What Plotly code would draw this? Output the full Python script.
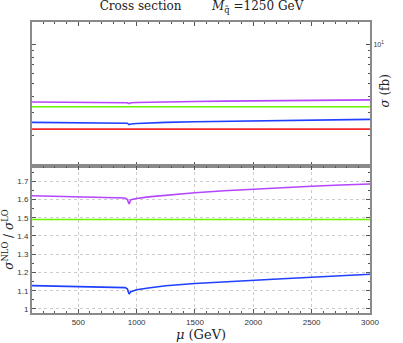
import plotly.graph_objects as go
from plotly.subplots import make_subplots

# scale mu (GeV)
mu = [100, 200, 300, 400, 500, 600, 700, 800, 900, 920, 935, 950, 1000,
      1100, 1250, 1500, 1750, 2000, 2250, 2500, 2750, 3000]

# cross sections (fb), top panel
sig_lo = [2.23] * len(mu)
sig_green = [3.32] * len(mu)
sig_purple = [3.613, 3.608, 3.604, 3.599, 3.597, 3.595, 3.593, 3.590, 3.586, 3.568,
              3.512, 3.564, 3.579, 3.599, 3.622, 3.651, 3.675, 3.695, 3.713, 3.729,
              3.744, 3.758]
sig_blue = [2.515, 2.513, 2.511, 2.509, 2.504, 2.502, 2.500, 2.495, 2.491, 2.475,
            2.413, 2.442, 2.464, 2.486, 2.513, 2.542, 2.565, 2.582, 2.600, 2.618,
            2.636, 2.654]

# K-factors, bottom panel
k_purple = [1.620, 1.618, 1.616, 1.614, 1.613, 1.612, 1.611, 1.610, 1.608, 1.600,
            1.575, 1.598, 1.605, 1.614, 1.624, 1.637, 1.648, 1.657, 1.665, 1.672,
            1.679, 1.685]
k_green = [1.49] * len(mu)
k_blue = [1.128, 1.127, 1.126, 1.125, 1.123, 1.122, 1.121, 1.119, 1.117, 1.110,
          1.082, 1.095, 1.105, 1.115, 1.127, 1.140, 1.150, 1.158, 1.166, 1.174,
          1.182, 1.190]

PURPLE = '#b446ff'
GREEN = '#6cf200'
BLUE = '#2040ff'
RED = '#f02828'
AXC = '#8a8a8a'
SERIF = 'DejaVu Serif'

fig = make_subplots(rows=2, cols=1, shared_xaxes=False, vertical_spacing=0,
                    row_heights=[0.495, 0.505])

for y, c in [(sig_purple, PURPLE), (sig_green, GREEN), (sig_blue, BLUE), (sig_lo, RED)]:
    fig.add_trace(go.Scatter(x=mu, y=y, mode='lines', line=dict(color=c, width=1.6),
                             showlegend=False), row=1, col=1)
for y, c in [(k_purple, PURPLE), (k_green, GREEN), (k_blue, BLUE)]:
    fig.add_trace(go.Scatter(x=mu, y=y, mode='lines', line=dict(color=c, width=1.6),
                             showlegend=False), row=2, col=1)

axis_common = dict(showline=True, linecolor=AXC, linewidth=2, mirror='ticks',
                   ticks='inside', tickcolor='#555', ticklen=4, zeroline=False,
                   automargin=False,
                   tickfont=dict(family='Liberation Sans', size=8, color='#333'))

xr = [103, 3000]
fig.update_xaxes(range=xr, tickvals=[500, 1000, 1500, 2000, 2500, 3000],
                 showticklabels=False, showgrid=False,
                 minor=dict(dtick=100, tick0=0, ticks='inside', ticklen=2, tickcolor='#555'),
                 **axis_common, row=1, col=1)
fig.update_xaxes(range=xr, tickvals=[500, 1000, 1500, 2000, 2500, 3000],
                 showgrid=True, gridcolor='#cccccc', griddash='dot', gridwidth=1,
                 minor=dict(dtick=100, tick0=0, ticks='inside', ticklen=2, tickcolor='#555'),
                 title=dict(text='<i>μ</i> (GeV)', font=dict(family=SERIF, size=13, color='#222'),
                            standoff=0),
                 **axis_common, row=2, col=1)

fig.update_yaxes(type='log', range=[0.062, 1.178], side='right',
                 tickvals=[10], ticktext=['10<sup>1</sup>'], showgrid=False,
                 tickfont=dict(family='Liberation Sans', size=7, color='#333'),
                 minor=dict(tickvals=[2, 3, 4, 5, 6, 7, 8, 9], ticks='inside', ticklen=2,
                            tickcolor='#555'),
                 **{k: v for k, v in axis_common.items() if k != 'tickfont'},
                 row=1, col=1)
fig.update_yaxes(range=[0.978, 1.783], tickvals=[1, 1.1, 1.2, 1.3, 1.4, 1.5, 1.6, 1.7],
                 ticktext=['1', '1.1', '1.2', '1.3', '1.4', '1.5', '1.6', '1.7'],
                 showgrid=True, gridcolor='#cccccc', griddash='dot', gridwidth=1,
                 minor=dict(dtick=0.05, tick0=0, ticks='inside', ticklen=2, tickcolor='#555'),
                 title=dict(text='<i>σ</i><sup>NLO</sup> / <i>σ</i><sup>LO</sup>',
                            font=dict(family=SERIF, size=12, color='#222'), standoff=2),
                 **axis_common, row=2, col=1)

fig.add_annotation(text='<i>σ</i> (fb)', xref='paper', yref='paper',
                   x=1.045, y=0.765, xanchor='center', yanchor='middle',
                   textangle=-90, showarrow=False,
                   font=dict(family=SERIF, size=12, color='#222'))

fig.update_layout(
    width=403, height=343,
    margin=dict(l=32, r=33, t=22, b=30),
    paper_bgcolor='white', plot_bgcolor='white',
    title=dict(text='Cross section&nbsp;&nbsp;&nbsp;&nbsp;&nbsp;&nbsp;&nbsp;&nbsp;'
                    '<i>M</i><sub>q̃</sub> =1250 GeV',
               x=0.5, xanchor='center', y=0.995, yanchor='top',
               font=dict(family=SERIF, size=12, color='#222')),
)

# drop the default 8px page margin so the figure sits at the window corner
fig.write_html("out.html", config={'displayModeBar': False},
               post_script="document.body.style.margin='0px';")
